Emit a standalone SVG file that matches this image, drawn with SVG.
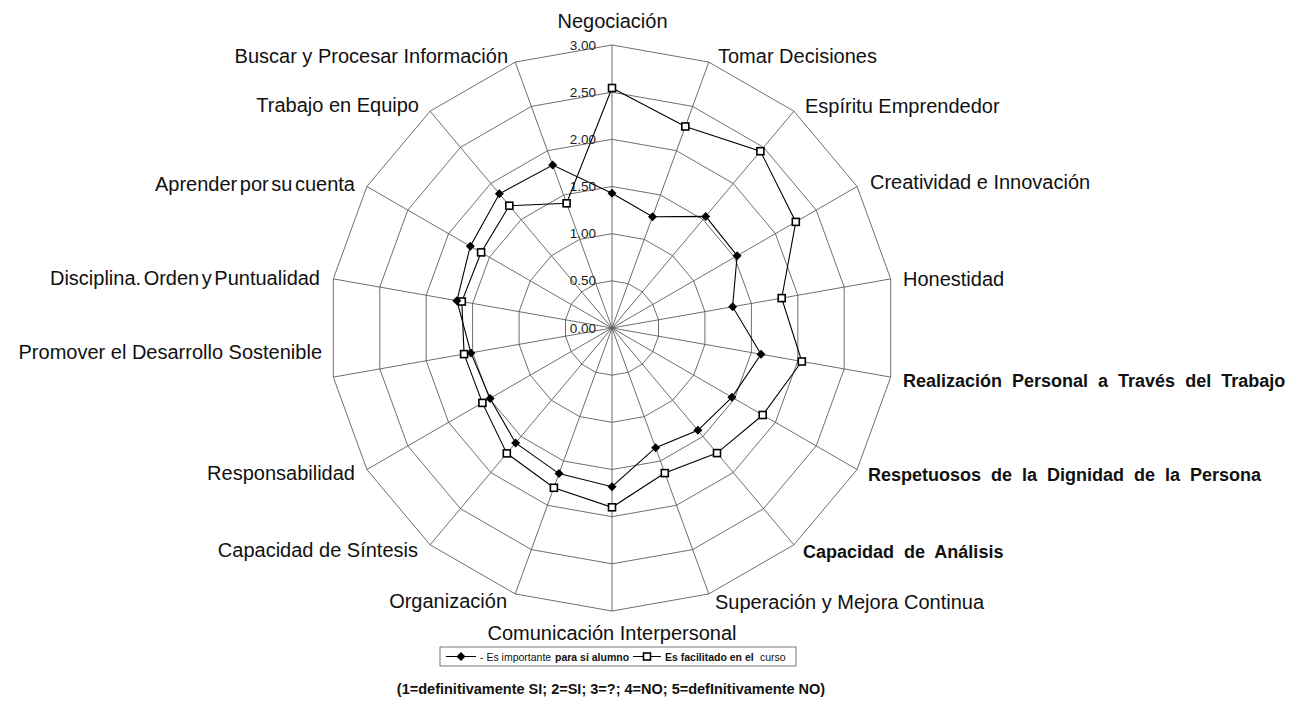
<svg xmlns="http://www.w3.org/2000/svg" xmlns:xlink="http://www.w3.org/1999/xlink" width="1293" height="722" viewBox="0 0 1293 722">
<style>
.grid{fill:none;stroke:#5e5e5e;stroke-width:0.9}
.ser{fill:none;stroke:#000;stroke-width:1.1}
.lbl{font-family:"Liberation Sans",Arial,sans-serif;font-size:20px;fill:#111}
.blbl{font-family:"Liberation Sans",Arial,sans-serif;font-size:18px;font-weight:bold;fill:#111;word-spacing:5px}
.tick{font-family:"Liberation Sans",Arial,sans-serif;font-size:13.5px;fill:#222;text-anchor:end}
.leg{font-family:"Liberation Sans",Arial,sans-serif;font-size:10.5px;fill:#111}
.legb{font-family:"Liberation Sans",Arial,sans-serif;font-size:10.5px;font-weight:bold;fill:#111}
.foot{font-family:"Liberation Sans",Arial,sans-serif;font-size:14.5px;font-weight:bold;fill:#111;text-anchor:middle}
</style>
<defs>
<path id="dia" d="M0,-4.5L4.5,0L0,4.5L-4.5,0Z" fill="#000"/>
<rect id="sq" x="-3.5" y="-3.5" width="7" height="7" fill="#fff" stroke="#000" stroke-width="1.6"/>
</defs>
<rect width="1293" height="722" fill="#fff"/>
<g id="grid" transform="translate(612,328)">
<polygon class="grid" points="0,-283 96.8,-265.9 181.9,-216.8 245.1,-141.5 278.7,-49.1 278.7,49.1 245.1,141.5 181.9,216.8 96.8,265.9 0,283 -96.8,265.9 -181.9,216.8 -245.1,141.5 -278.7,49.1 -278.7,-49.1 -245.1,-141.5 -181.9,-216.8 -96.8,-265.9"/>
<polygon class="grid" points="0,-235.8 80.7,-221.6 151.6,-180.6 204.2,-117.9 232.2,-40.9 232.2,40.9 204.2,117.9 151.6,180.6 80.7,221.6 0,235.8 -80.7,221.6 -151.6,180.6 -204.2,117.9 -232.2,40.9 -232.2,-40.9 -204.2,-117.9 -151.6,-180.6 -80.7,-221.6"/>
<polygon class="grid" points="0,-188.7 64.5,-177.3 121.3,-144.5 163.4,-94.3 185.8,-32.8 185.8,32.8 163.4,94.3 121.3,144.5 64.5,177.3 0,188.7 -64.5,177.3 -121.3,144.5 -163.4,94.3 -185.8,32.8 -185.8,-32.8 -163.4,-94.3 -121.3,-144.5 -64.5,-177.3"/>
<polygon class="grid" points="0,-141.5 48.4,-133 91,-108.4 122.5,-70.8 139.4,-24.6 139.4,24.6 122.5,70.8 91,108.4 48.4,133 0,141.5 -48.4,133 -91,108.4 -122.5,70.8 -139.4,24.6 -139.4,-24.6 -122.5,-70.8 -91,-108.4 -48.4,-133"/>
<polygon class="grid" points="0,-94.3 32.3,-88.6 60.6,-72.3 81.7,-47.2 92.9,-16.4 92.9,16.4 81.7,47.2 60.6,72.3 32.3,88.6 0,94.3 -32.3,88.6 -60.6,72.3 -81.7,47.2 -92.9,16.4 -92.9,-16.4 -81.7,-47.2 -60.6,-72.3 -32.3,-88.6"/>
<polygon class="grid" points="0,-47.2 16.1,-44.3 30.3,-36.1 40.8,-23.6 46.5,-8.2 46.5,8.2 40.8,23.6 30.3,36.1 16.1,44.3 0,47.2 -16.1,44.3 -30.3,36.1 -40.8,23.6 -46.5,8.2 -46.5,-8.2 -40.8,-23.6 -30.3,-36.1 -16.1,-44.3"/>
<path class="grid" d="M0,-283L0,283M96.8,-265.9L-96.8,265.9M181.9,-216.8L-181.9,216.8M245.1,-141.5L-245.1,141.5M278.7,-49.1L-278.7,49.1M278.7,49.1L-278.7,-49.1M245.1,141.5L-245.1,-141.5M181.9,216.8L-181.9,-216.8M96.8,265.9L-96.8,-265.9"/>
</g>
<g id="ticks">
<text class="tick" x="596" y="49.5">3.00</text>
<text class="tick" x="596" y="96.7">2.50</text>
<text class="tick" x="596" y="143.8">2.00</text>
<text class="tick" x="596" y="191">1.50</text>
<text class="tick" x="596" y="238.2">1.00</text>
<text class="tick" x="596" y="285.3">0.50</text>
<text class="tick" x="596" y="332.5">0.00</text>
</g>
<g id="connectors" transform="translate(612,328)">
<polygon id="serie-facilitado" class="ser" points="0,-240 73.3,-201.5 148.4,-176.8 183.8,-106.1 169.7,-29.9 189.8,33.5 150.7,87 105,125.1 52.8,145.1 0,179.3 -58.1,159.8 -105.2,125.4 -129.6,74.9 -147.9,26.1 -150.2,-26.5 -130.9,-75.6 -102.7,-122.3 -45.4,-124.7"/>
<polygon id="serie-importante" class="ser" points="0,-134.7 40.5,-111.3 93.7,-111.6 125.1,-72.3 120.6,-21.3 149,26.3 119.9,69.3 85.9,102.3 43.6,119.7 0,158.7 -53,145.6 -96.4,114.9 -121.9,70.4 -141.1,24.9 -155.1,-27.3 -141.7,-81.8 -112.6,-134.2 -59.3,-163"/>
</g>
<g id="markers-facilitado" transform="translate(612,328)">
<use href="#sq" x="0" y="-240"/><use href="#sq" x="73.3" y="-201.5"/><use href="#sq" x="148.4" y="-176.8"/><use href="#sq" x="183.8" y="-106.1"/><use href="#sq" x="169.7" y="-29.9"/><use href="#sq" x="189.8" y="33.5"/><use href="#sq" x="150.7" y="87"/><use href="#sq" x="105" y="125.1"/><use href="#sq" x="52.8" y="145.1"/><use href="#sq" x="0" y="179.3"/><use href="#sq" x="-58.1" y="159.8"/><use href="#sq" x="-105.2" y="125.4"/><use href="#sq" x="-129.6" y="74.9"/><use href="#sq" x="-147.9" y="26.1"/><use href="#sq" x="-150.2" y="-26.5"/><use href="#sq" x="-130.9" y="-75.6"/><use href="#sq" x="-102.7" y="-122.3"/><use href="#sq" x="-45.4" y="-124.7"/>
</g>
<g id="markers-importante" transform="translate(612,328)">
<use href="#dia" x="0" y="-134.7"/><use href="#dia" x="40.5" y="-111.3"/><use href="#dia" x="93.7" y="-111.6"/><use href="#dia" x="125.1" y="-72.3"/><use href="#dia" x="120.6" y="-21.3"/><use href="#dia" x="149" y="26.3"/><use href="#dia" x="119.9" y="69.3"/><use href="#dia" x="85.9" y="102.3"/><use href="#dia" x="43.6" y="119.7"/><use href="#dia" x="0" y="158.7"/><use href="#dia" x="-53" y="145.6"/><use href="#dia" x="-96.4" y="114.9"/><use href="#dia" x="-121.9" y="70.4"/><use href="#dia" x="-141.1" y="24.9"/><use href="#dia" x="-155.1" y="-27.3"/><use href="#dia" x="-141.7" y="-81.8"/><use href="#dia" x="-112.6" y="-134.2"/><use href="#dia" x="-59.3" y="-163"/>
</g>
<g id="n-negociacion"><text class="lbl" x="612.5" y="28" text-anchor="middle">Negociación</text></g>
<g id="n-tomar"><text class="lbl" x="718" y="63">Tomar Decisiones</text></g>
<g id="n-espiritu"><text class="lbl" x="805" y="113">Espíritu Emprendedor</text></g>
<g id="n-creatividad"><text class="lbl" x="870" y="189">Creatividad e Innovación</text></g>
<g id="n-honestidad"><text class="lbl" x="903" y="286">Honestidad</text></g>
<g id="n-realizacion"><text class="blbl" x="903" y="387">Realización Personal a Través del Trabajo</text></g>
<g id="n-respetuosos"><text class="blbl" x="868" y="481">Respetuosos de la Dignidad de la Persona</text></g>
<g id="n-analisis"><text class="blbl" x="803" y="558">Capacidad de Análisis</text></g>
<g id="n-superacion"><text class="lbl" x="715" y="609">Superación y Mejora Continua</text></g>
<g id="n-comunicacion"><text class="lbl" x="612" y="640" text-anchor="middle">Comunicación Interpersonal</text></g>
<g id="n-organizacion"><text class="lbl" x="507" y="608" text-anchor="end">Organización</text></g>
<g id="n-sintesis"><text class="lbl" x="418" y="557" text-anchor="end">Capacidad de Síntesis</text></g>
<g id="n-responsabilidad"><text class="lbl" x="355" y="480" text-anchor="end">Responsabilidad</text></g>
<g id="n-promover"><text class="lbl" x="322" y="359" text-anchor="end">Promover el Desarrollo Sostenible</text></g>
<g id="n-disciplina"><text class="lbl" x="320" y="285" text-anchor="end" word-spacing="-3">Disciplina. Orden y Puntualidad</text></g>
<g id="n-aprender"><text class="lbl" x="355" y="191" text-anchor="end" word-spacing="-3">Aprender por su cuenta</text></g>
<g id="n-trabajo"><text class="lbl" x="419" y="112" text-anchor="end">Trabajo en Equipo</text></g>
<g id="n-buscar"><text class="lbl" x="508" y="63" text-anchor="end">Buscar y Procesar Información</text></g>
<g id="legend">
<rect x="440" y="647" width="356" height="19" fill="#fff" stroke="#555" stroke-width="0.8"/>
<line x1="446" y1="656.5" x2="476" y2="656.5" stroke="#000" stroke-width="1"/>
<use href="#dia" x="461" y="656.5"/>
<text class="leg" x="480" y="660.5">- Es importante</text>
<text class="legb" x="555" y="660.5">para si alumno</text>
<line x1="633" y1="656.5" x2="661" y2="656.5" stroke="#000" stroke-width="1"/>
<use href="#sq" x="647" y="656.5"/>
<text class="legb" x="665" y="660.5">Es facilitado en el</text>
<text class="leg" x="760" y="660.5">curso</text>
</g>
<g id="footnote"><text class="foot" x="611" y="694">(1=definitivamente SI; 2=SI; 3=?; 4=NO; 5=defInitivamente NO)</text></g>
</svg>
